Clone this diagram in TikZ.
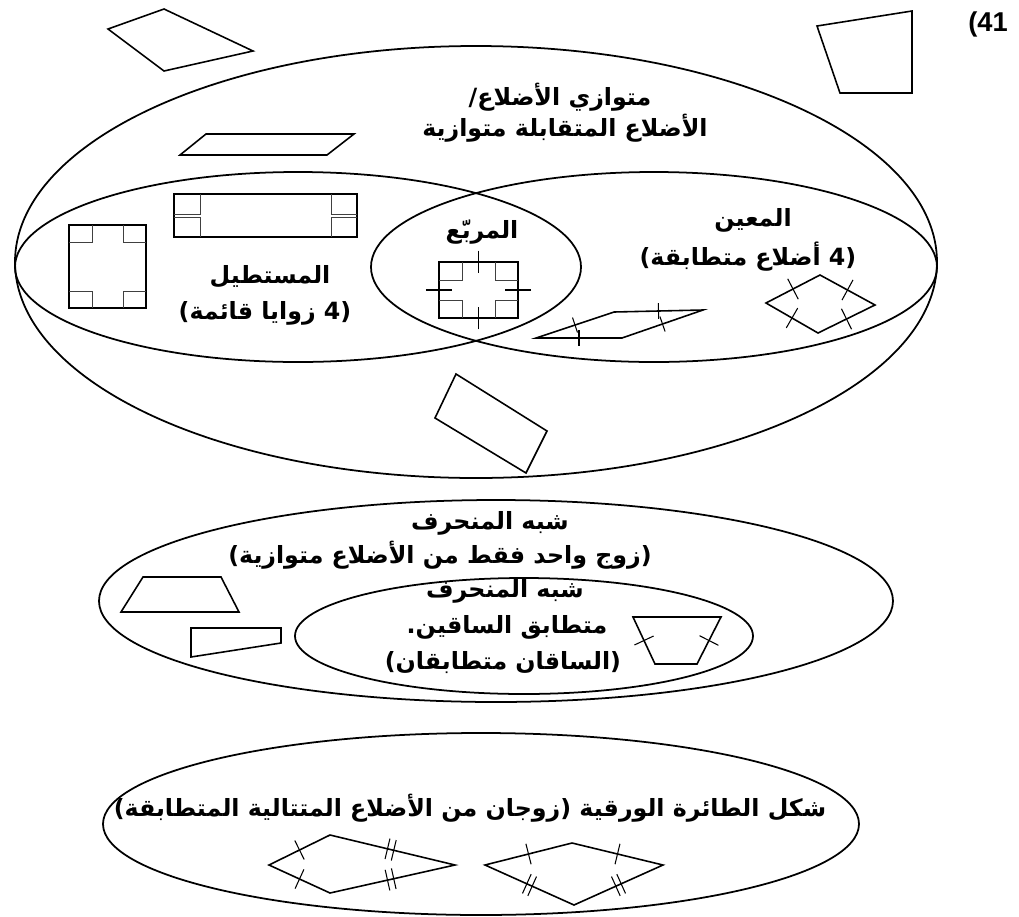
\documentclass[tikz,border=0pt]{standalone}
\usepackage{fontspec}
\setmainfont{Liberation Sans}
\newfontfamily\arabicfont[Script=Arabic]{DejaVu Sans}
\TeXXeTstate=1
\usetikzlibrary{calc}

% Right-to-left text run.
\newcommand{\artext}[1]{\beginR #1\endR}
% One tick across the side A--B: [position]{A}{B}{half length}.
\newcommand{\sidetick}[4][0.5]{%
  \draw[tickline] ($(#2)!#1!(#3)!#4!90:(#3)$) -- ($(#2)!#1!(#3)!#4!-90:(#3)$);}
% Right angle marks in the four corners: {x0}{y0}{x1}{y1}{w}{h}.
\newcommand{\cornermarks}[6]{%
  \draw[markline] (#1+#5,#2) |- (#1,#2+#6)
    (#3-#5,#2) |- (#3,#2+#6)
    (#1+#5,#4) |- (#1,#4-#6)
    (#3-#5,#4) |- (#3,#4-#6);}

\begin{document}
\begin{tikzpicture}[
  x=0.02cm,
  y=-0.02cm,
  zone/.style={
    draw,
    line width=1pt
  },
  quad/.style={
    draw,
    line width=0.9pt,
    line join=miter
  },
  markline/.style={
    draw,
    line width=0.55pt,
    black!75
  },
  tickline/.style={
    draw,
    line width=0.6pt
  },
  lbl/.style={
    inner sep=0pt,
    font=\arabicfont\bfseries\fontsize{13.5}{16}\selectfont
  },
  num/.style={
    inner sep=0pt,
    font=\bfseries\fontsize{15.5}{18}\selectfont
  }
]
\useasboundingbox (0,0) rectangle (1019,917);

% Exercise number.
\node[num] (exnum) at (988,24) {(41};

% Parallelogram family.
\draw[zone] (476,262) ellipse [x radius=461, y radius=216];
\draw[zone] (298,267) ellipse [x radius=283, y radius=95];
\draw[zone] (654,267) ellipse [x radius=283, y radius=95];

\node[lbl] (paraname) at (560,97) {\artext{متوازي الأضلاع/}};
\node[lbl] (paradef) at (565,128) {\artext{الأضلاع المتقابلة متوازية}};
\node[lbl] (rectname) at (270,277) {\artext{المستطيل}};
\node[lbl] (rectdef) at (265,313) {\artext{(4 زوايا قائمة)}};
\node[lbl] (sqname) at (482,232) {\artext{المربّع}};
\node[lbl] (rhname) at (753,220) {\artext{المعين}};
\node[lbl] (rhdef) at (748,257) {\artext{(4 أضلاع متطابقة)}};

% Shapes outside the parallelograms.
\draw[quad] (164,9) -- (253,51) -- (164,71) -- (108,29) -- cycle;
\draw[quad] (817,26) -- (912,11) -- (912,93) -- (840,93) -- cycle;

% Parallelograms.
\draw[quad] (206,134) -- (354,134) -- (327,155) -- (180,155) -- cycle;
\draw[quad] (456,374) -- (547,431) -- (526,473) -- (435,418) -- cycle;

% Rectangles.
\draw[quad] (69,225) rectangle (146,308);
\cornermarks{69}{225}{146}{308}{23}{17}
\draw[quad] (174,194) rectangle (357,237);
\cornermarks{174}{194}{357}{237}{26}{20}

% Square.
\draw[quad] (439,262) rectangle (518,318);
\cornermarks{439}{262}{518}{318}{23}{18}
\coordinate (sqa) at (439,262);
\coordinate (sqb) at (518,262);
\coordinate (sqc) at (518,318);
\coordinate (sqd) at (439,318);
\sidetick[0.5]{sqa}{sqb}{6.5pt}
\sidetick[0.5]{sqb}{sqc}{7.5pt}
\sidetick[0.5]{sqc}{sqd}{6.5pt}
\sidetick[0.5]{sqd}{sqa}{7.5pt}

% Rhombuses.
\coordinate (rha) at (820,275);
\coordinate (rhb) at (875,305);
\coordinate (rhc) at (818,333);
\coordinate (rhd) at (766,303);
\draw[quad] (rha) -- (rhb) -- (rhc) -- (rhd) -- cycle;
\foreach \p/\q in {rha/rhb, rhb/rhc, rhc/rhd, rhd/rha}
  \sidetick{\p}{\q}{6.5pt};

\coordinate (rpa) at (536,338);
\coordinate (rpb) at (614,312);
\coordinate (rpc) at (703,310);
\coordinate (rpd) at (622,338);
\draw[quad] (rpa) -- (rpb) -- (rpc) -- (rpd) -- cycle;
\foreach \p/\q in {rpa/rpb, rpb/rpc, rpc/rpd, rpd/rpa}
  \sidetick{\p}{\q}{4.5pt};

% Trapezoid family.
\draw[zone] (496,601) ellipse [x radius=397, y radius=101];
\draw[zone] (524,636) ellipse [x radius=229, y radius=58];

\node[lbl] (trapname) at (490,523) {\artext{شبه المنحرف}};
\node[lbl] (trapdef) at (440,555) {\artext{(زوج واحد فقط من الأضلاع متوازية)}};
\node[lbl] (isoname) at (505,591) {\artext{شبه المنحرف}};
\node[lbl] (isoname2) at (507,627) {\artext{متطابق الساقين.}};
\node[lbl] (isodef) at (503,663) {\artext{(الساقان متطابقان)}};

\draw[quad] (143,577) -- (221,577) -- (239,612) -- (121,612) -- cycle;
\draw[quad] (191,628) -- (281,628) -- (281,643) -- (191,657) -- cycle;

\coordinate (ita) at (633,617);
\coordinate (itb) at (721,617);
\coordinate (itc) at (697,664);
\coordinate (itd) at (655,664);
\draw[quad] (ita) -- (itb) -- (itc) -- (itd) -- cycle;
\sidetick{ita}{itd}{6pt}
\sidetick{itb}{itc}{6pt}

% Kites.
\draw[zone] (481,824) ellipse [x radius=378, y radius=91];

\node[lbl] (kitedef) at (470,808) {\artext{شكل الطائرة الورقية (زوجان من الأضلاع المتتالية المتطابقة)}};

\coordinate (ka) at (330,835);
\coordinate (kb) at (455,865);
\coordinate (kc) at (330,893);
\coordinate (kd) at (269,865);
\draw[quad] (ka) -- (kb) -- (kc) -- (kd) -- cycle;
\sidetick{kd}{ka}{6pt}
\sidetick{kc}{kd}{6pt}
\sidetick[0.46]{ka}{kb}{6pt}
\sidetick[0.51]{ka}{kb}{6pt}
\sidetick[0.49]{kb}{kc}{6pt}
\sidetick[0.54]{kb}{kc}{6pt}

\coordinate (la) at (572,843);
\coordinate (lb) at (663,865);
\coordinate (lc) at (574,905);
\coordinate (ld) at (485,865);
\draw[quad] (la) -- (lb) -- (lc) -- (ld) -- cycle;
\sidetick{ld}{la}{6pt}
\sidetick{la}{lb}{6pt}
\sidetick[0.47]{lb}{lc}{6pt}
\sidetick[0.53]{lb}{lc}{6pt}
\sidetick[0.47]{lc}{ld}{6pt}
\sidetick[0.53]{lc}{ld}{6pt}

\end{tikzpicture}
\end{document}
